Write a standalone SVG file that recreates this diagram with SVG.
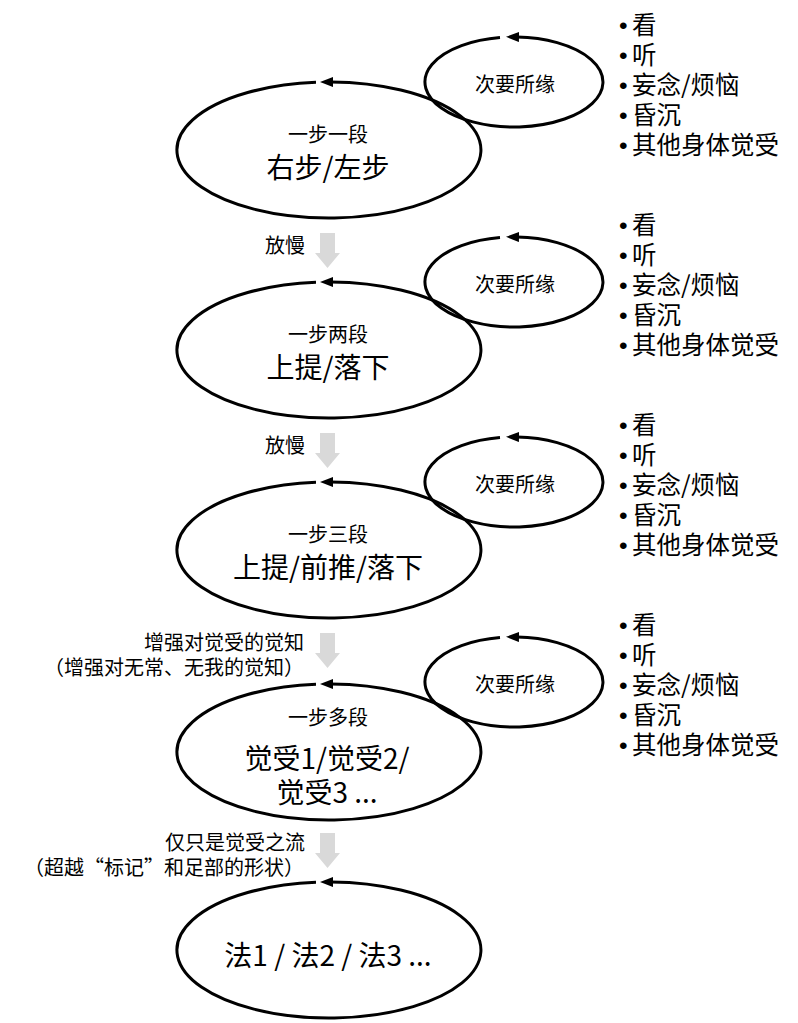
<svg xmlns="http://www.w3.org/2000/svg" width="798" height="1023" viewBox="0 0 798 1023">
<style>
text{font-family:"Microsoft YaHei","Noto Sans CJK SC","Noto Sans",sans-serif;fill:#000}
.ring{fill:none;stroke:#000;stroke-width:3;marker-end:url(#ah)}
.sm{font-size:20px;text-anchor:middle}
.lg{font-size:28px;text-anchor:middle}
.bl{font-size:24.5px}
.bl text{font-family:"Liberation Sans","Noto Sans CJK SC",sans-serif}
.bl tspan{font-family:"Microsoft YaHei","Noto Sans CJK SC",sans-serif}
.lab{font-size:20px;text-anchor:end}
.down{fill:#d9d9d9}
</style>
<defs>
<marker id="ah" markerUnits="userSpaceOnUse" markerWidth="14" markerHeight="12" refX="2" refY="5" orient="auto"><path d="M0,0 L13,5 L0,10 z" fill="#000"/></marker>
<polygon id="dn" points="320,0 335,0 335,20 340,20 327.5,35 315,20 320,20"/>
</defs>
<g id="connectors">
<use href="#dn" class="down" y="233"/>
<use href="#dn" class="down" y="433"/>
<use href="#dn" class="down" y="633"/>
<use href="#dn" class="down" y="833"/>
</g>
<g id="node1">
<path class="ring" d="M316,82.25 A152,68 0 1 0 331,82.01"/>
<text class="sm" x="328" y="142">一步一段</text>
<text class="lg" x="328" y="178">右步/左步</text>
</g>
<g id="sec1">
<path class="ring" d="M500,37.56 A89,45 0 1 0 517,37.03"/>
<text class="sm" x="515" y="92">次要所缘</text>
</g>
<g id="list1" class="bl">
<text x="619" y="34">•<tspan x="632">看</tspan></text>
<text x="619" y="64">•<tspan x="632">听</tspan></text>
<text x="619" y="94">•<tspan x="632">妄念/烦恼</tspan></text>
<text x="619" y="124">•<tspan x="632">昏沉</tspan></text>
<text x="619" y="154">•<tspan x="632">其他身体觉受</tspan></text>
</g>
<g id="label1"><text class="lab" x="305" y="253">放慢</text></g>
<g id="node2">
<path class="ring" d="M316,282.25 A152,68 0 1 0 331,282.01"/>
<text class="sm" x="328" y="342">一步两段</text>
<text class="lg" x="328" y="378">上提/落下</text>
</g>
<g id="sec2">
<path class="ring" d="M500,237.56 A89,45 0 1 0 517,237.03"/>
<text class="sm" x="515" y="292">次要所缘</text>
</g>
<g id="list2" class="bl">
<text x="619" y="234">•<tspan x="632">看</tspan></text>
<text x="619" y="264">•<tspan x="632">听</tspan></text>
<text x="619" y="294">•<tspan x="632">妄念/烦恼</tspan></text>
<text x="619" y="324">•<tspan x="632">昏沉</tspan></text>
<text x="619" y="354">•<tspan x="632">其他身体觉受</tspan></text>
</g>
<g id="label2"><text class="lab" x="305" y="453">放慢</text></g>
<g id="node3">
<path class="ring" d="M316,482.25 A152,68 0 1 0 331,482.01"/>
<text class="sm" x="328" y="542">一步三段</text>
<text class="lg" x="328" y="578">上提/前推/落下</text>
</g>
<g id="sec3">
<path class="ring" d="M500,437.56 A89,45 0 1 0 517,437.03"/>
<text class="sm" x="515" y="492">次要所缘</text>
</g>
<g id="list3" class="bl">
<text x="619" y="434">•<tspan x="632">看</tspan></text>
<text x="619" y="464">•<tspan x="632">听</tspan></text>
<text x="619" y="494">•<tspan x="632">妄念/烦恼</tspan></text>
<text x="619" y="524">•<tspan x="632">昏沉</tspan></text>
<text x="619" y="554">•<tspan x="632">其他身体觉受</tspan></text>
</g>
<g id="label3">
<text class="lab" x="304" y="650">增强对觉受的觉知</text>
<text class="lab" x="304" y="675">（增强对无常、无我的觉知）</text>
</g>
<g id="node4">
<path class="ring" d="M316,684.25 A152,68 0 1 0 331,684.01"/>
<text class="sm" x="328" y="725">一步多段</text>
<text class="lg" x="327" y="769">觉受1/觉受2/</text>
<text class="lg" x="327" y="803">觉受3 ...</text>
</g>
<g id="sec4">
<path class="ring" d="M500,637.56 A89,45 0 1 0 517,637.03"/>
<text class="sm" x="515" y="692">次要所缘</text>
</g>
<g id="list4" class="bl">
<text x="619" y="634">•<tspan x="632">看</tspan></text>
<text x="619" y="664">•<tspan x="632">听</tspan></text>
<text x="619" y="694">•<tspan x="632">妄念/烦恼</tspan></text>
<text x="619" y="724">•<tspan x="632">昏沉</tspan></text>
<text x="619" y="754">•<tspan x="632">其他身体觉受</tspan></text>
</g>
<g id="label4">
<text class="lab" x="305" y="850">仅只是觉受之流</text>
<text class="lab" x="304" y="875">（超越“标记”和足部的形状）</text>
</g>
<g id="node5">
<path class="ring" d="M316,882.25 A152,68 0 1 0 331,882.01"/>
<text class="lg" x="328" y="966">法1 / 法2 / 法3 ...</text>
</g>
</svg>
